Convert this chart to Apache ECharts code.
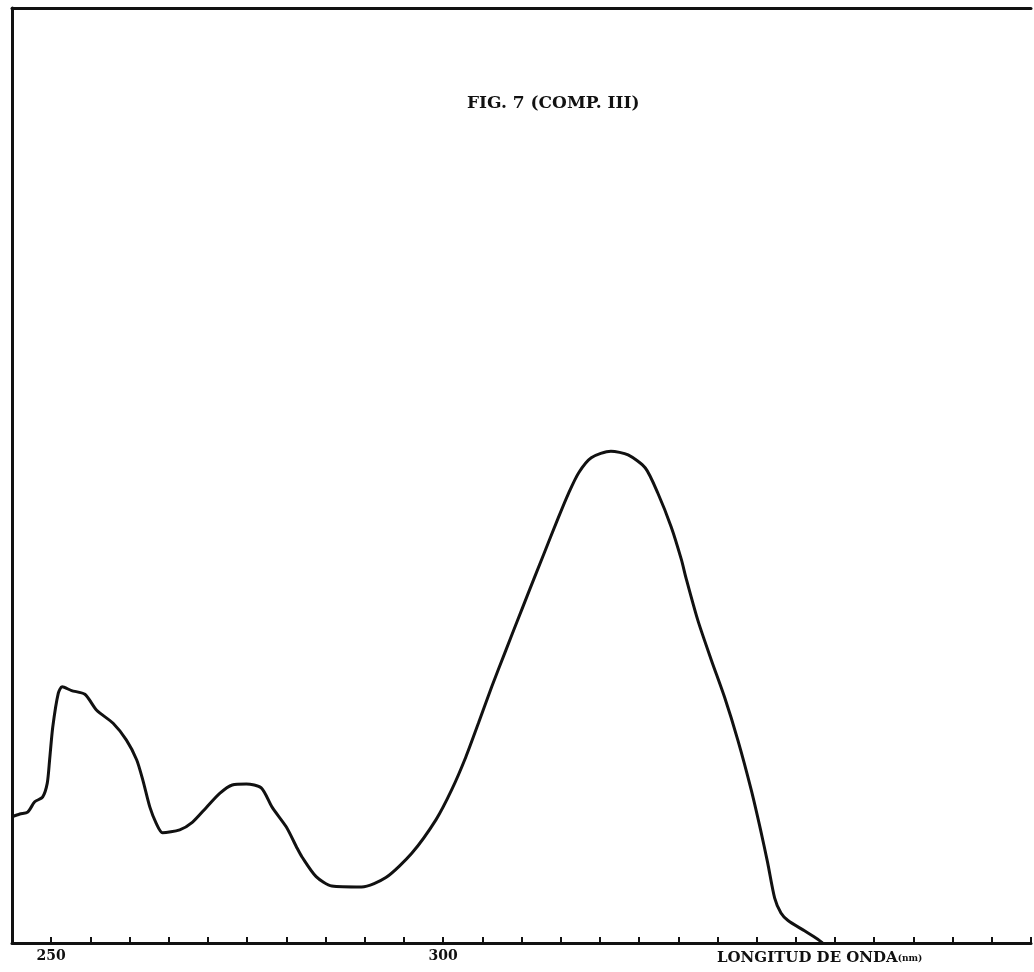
<!DOCTYPE html>
<html>
<head>
<meta charset="utf-8">
<title>FIG. 7 (COMP. III)</title>
<script src="https://cdn.jsdelivr.net/npm/echarts@6/dist/echarts.min.js"></script>
<style>
  html, body { margin: 0; padding: 0; background: #fff; }
  #chart { width: 1034px; height: 972px; }
</style>
</head>
<body>
<div id="chart"></div>
<script>
// longitud de onda (nm) y absorbancia
const wavelength = [
  245.0, 246.0, 247.0, 247.9, 248.9, 249.5, 249.8, 250.2, 250.9, 251.4,
  252.6, 254.3, 255.8, 257.9, 259.6, 260.9, 261.7, 262.6, 263.4, 264.2,
  266.4, 268.0, 269.8, 271.5, 273.1, 274.9, 276.8, 278.2, 280.0, 281.4,
  282.0, 283.8, 285.8, 289.6, 292.7, 296.0, 299.1, 301.1, 302.9, 304.5,
  306.2, 308.0, 309.4, 310.9, 312.8, 314.7, 316.0, 317.3, 318.9, 321.4,
  323.6, 325.8, 327.4, 329.1, 330.4, 331.0, 332.5, 334.2, 335.9, 337.6,
  339.3, 340.5, 341.4, 342.3, 343.1, 344.0, 346.1, 347.8, 348.4
];
const absorbance = [
  0.135, 0.138, 0.140, 0.151, 0.156, 0.171, 0.196, 0.231, 0.267, 0.274,
  0.270, 0.266, 0.249, 0.235, 0.217, 0.196, 0.174, 0.145, 0.128, 0.118,
  0.121, 0.129, 0.145, 0.160, 0.169, 0.170, 0.166, 0.145, 0.124, 0.101,
  0.092, 0.071, 0.061, 0.060, 0.070, 0.096, 0.132, 0.164, 0.199, 0.235,
  0.274, 0.313, 0.343, 0.375, 0.415, 0.455, 0.481, 0.503, 0.519, 0.526,
  0.522, 0.508, 0.481, 0.445, 0.410, 0.390, 0.345, 0.303, 0.263, 0.217,
  0.164, 0.121, 0.086, 0.048, 0.032, 0.024, 0.013, 0.004, 0.000
];
const tickLabels = [250, 300];

const chart = echarts.init(document.getElementById('chart'));
const font = 'DejaVu Serif';

const option = {
  backgroundColor: '#fff',
  animation: false,
  title: [
    {
      text: 'FIG. 7 (COMP. III)',
      left: 462,
      top: 90,
      textStyle: { fontFamily: font, fontWeight: 'bold', fontSize: 17, color: '#111' }
    },
    {
      // nombre del eje x
      text: '{a|LONGITUD DE ONDA}{b|(nm)}',
      left: 712,
      top: 946,
      textStyle: {
        rich: {
          a: { fontFamily: font, fontWeight: 'bold', fontSize: 15, color: '#111' },
          b: { fontFamily: font, fontWeight: 'bold', fontSize: 9, color: '#111' }
        }
      }
    }
  ],
  grid: { left: 12, right: 0, top: 8, bottom: 29 },
  xAxis: [
    {
      type: 'value',
      min: 245,
      max: 375,
      interval: 5,
      axisLine: { lineStyle: { color: '#111', width: 3 } },
      axisTick: { inside: true, length: 6, lineStyle: { color: '#111', width: 2 } },
      splitLine: { show: false },
      axisLabel: {
        margin: 6,
        fontFamily: font,
        fontWeight: 'bold',
        fontSize: 14,
        color: '#111',
        formatter: v => tickLabels.includes(v) ? String(v) : ''
      }
    },
    {
      // borde superior
      type: 'value',
      position: 'top',
      min: 245,
      max: 375,
      axisLine: { show: true, lineStyle: { color: '#111', width: 3 } },
      axisTick: { show: false },
      axisLabel: { show: false },
      splitLine: { show: false }
    }
  ],
  yAxis: {
    type: 'value',
    min: 0,
    max: 1,
    axisLine: { show: true, lineStyle: { color: '#111', width: 3 } },
    axisTick: { show: false },
    axisLabel: { show: false },
    splitLine: { show: false }
  },
  series: [
    {
      type: 'line',
      data: wavelength.map((x, i) => [x, absorbance[i]]),
      showSymbol: false,
      smooth: 0.25,
      lineStyle: { color: '#111', width: 3 }
    }
  ]
};

chart.setOption(option);
</script>
</body>
</html>
